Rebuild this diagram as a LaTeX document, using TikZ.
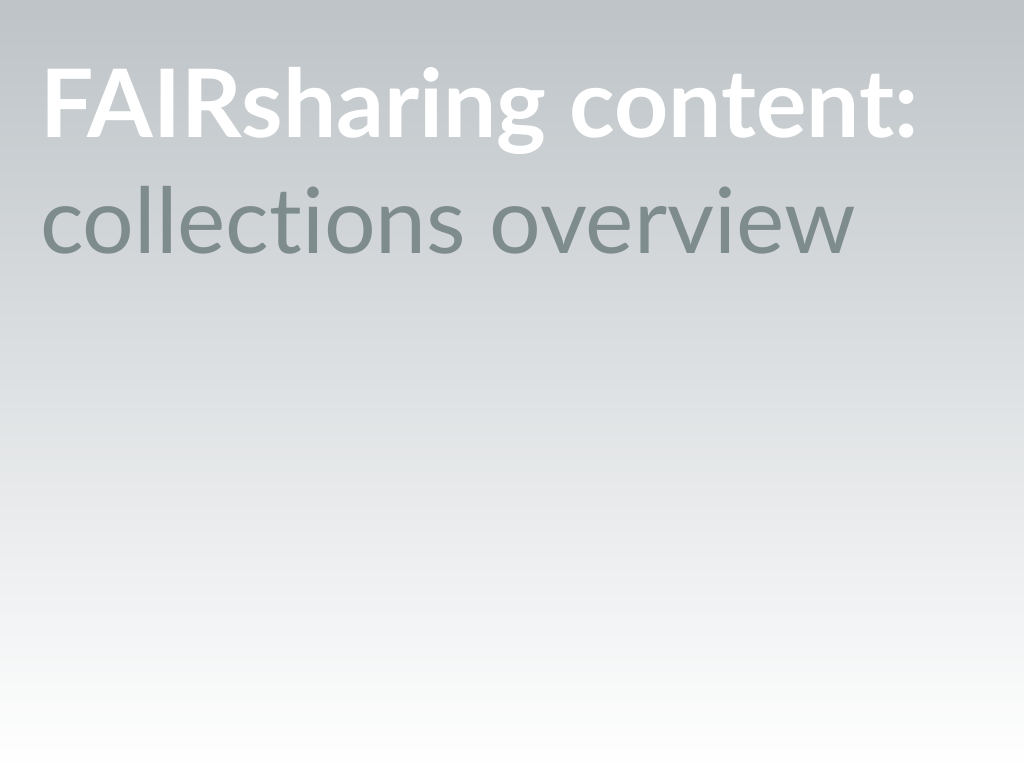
\documentclass[tikz,border=0pt]{standalone}
\usepackage{fontspec}
\setmainfont[Ligatures={NoCommon,NoDiscretionary}]{Lato}
\usepackage{graphicx}
\definecolor{topgray}{HTML}{BDC3C7}
\definecolor{textgray}{HTML}{7F8C8D}
\tikzset{
  titletext/.style={anchor=base west, inner sep=0pt, outer sep=0pt, text=white, font=\bfseries},
  subtext/.style={anchor=base west, inner sep=0pt, outer sep=0pt, text=textgray}
}
\begin{document}
\begin{tikzpicture}[x=1pt,y=1pt]
\useasboundingbox (0,0) rectangle (1024,768);
\shade[top color=topgray, bottom color=white] (0,0) rectangle (1024,768);
\node[titletext] (title) at (40,630) {\resizebox{878pt}{!}{FAIRsharing content:}};
\node[subtext] (sub) at (40,514) {\resizebox{815pt}{!}{collect\kern0pt ions overview}};
\end{tikzpicture}
\end{document}
